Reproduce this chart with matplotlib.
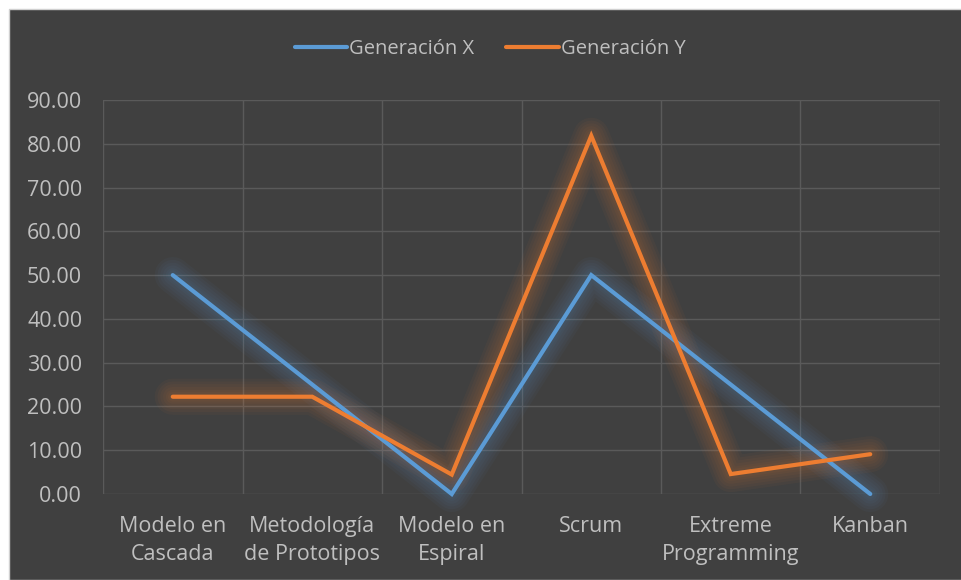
import numpy as np
import matplotlib.pyplot as plt
from matplotlib.patches import Rectangle

categorias = ["Modelo en\nCascada", "Metodología\nde Prototipos", "Modelo en\nEspiral",
              "Scrum", "Extreme\nProgramming", "Kanban"]
gen_x = [50.0, 25.0, 0.0, 50.0, 25.0, 0.0]
gen_y = [22.22, 22.22, 4.44, 81.82, 4.55, 9.09]
series = ["Generación X", "Generación Y"]
colores = ["#5b9bd5", "#ed7d31"]

plt.rcParams['font.family'] = ['Open Sans', 'DejaVu Sans']
bg = "#404040"
txt = "#bfbfbf"

fig = plt.figure(figsize=(9.62, 5.80), dpi=100, facecolor="white")
fig.patches.append(Rectangle((9 / 962, 0), 1 - 9 / 962, 1 - 9 / 580, transform=fig.transFigure,
                             facecolor=bg, edgecolor="#d0d0d0", linewidth=1, zorder=-5))

ax = fig.add_axes([103 / 962, 86 / 580, (940 - 103) / 962, (494 - 100) / 580])
ax.patch.set_alpha(0)

x = np.arange(len(categorias))
handles = []
for vals, col, name in zip([gen_x, gen_y], colores, series):
    # glow, several soft layers
    for w in [26, 22, 18, 14, 10, 7]:
        ax.plot(x, vals, color=col, linewidth=w, alpha=0.045, solid_capstyle="round",
                solid_joinstyle="round", zorder=2, clip_on=False)
    h, = ax.plot(x, vals, color=col, linewidth=3, solid_capstyle="round",
                 solid_joinstyle="miter", zorder=3, label=name, clip_on=False)
    handles.append(h)

ax.set_xlim(-0.5, len(categorias) - 0.5)
ax.set_ylim(0, 90)
ax.set_yticks(np.arange(0, 91, 10))
ax.set_yticklabels([f"{v:.2f}" for v in np.arange(0, 91, 10)])
ax.set_xticks(x)
ax.set_xticklabels(categorias, linespacing=1.45)
ax.set_xticks(np.arange(-0.5, len(categorias), 1), minor=True)

ax.grid(True, which="major", axis="y", color="#5a5a5a", linewidth=1)
ax.grid(True, which="minor", axis="x", color="#5a5a5a", linewidth=1)
ax.set_axisbelow(True)
for s in ax.spines.values():
    s.set_visible(False)
ax.tick_params(which="both", length=0, colors=txt, labelsize=15.5)
ax.tick_params(axis="y", pad=15)
ax.tick_params(axis="x", pad=16)

fig.legend(handles=handles, loc="center", bbox_to_anchor=(490 / 962, 1 - 49 / 580), ncol=2,
           frameon=False, fontsize=14.5, labelcolor=txt, handlelength=2.6, handletextpad=0.1,
           columnspacing=1.6)

fig.savefig("out.png", dpi=100, facecolor="white")
